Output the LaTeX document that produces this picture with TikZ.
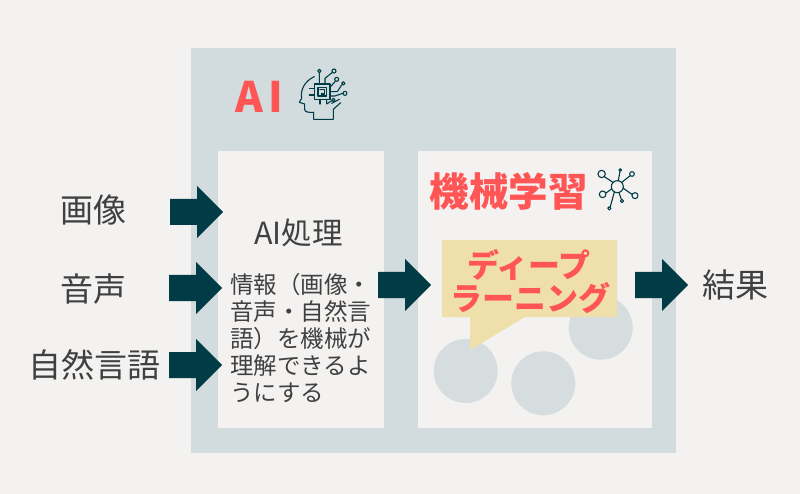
\documentclass[tikz,border=0pt]{standalone}
\usepackage{fontspec}
\setmainfont{Noto Sans CJK JP}
\definecolor{bgcol}{HTML}{F3F2F1}
\definecolor{panelcol}{HTML}{D2DBDD}
\definecolor{darkcol}{HTML}{003B46}
\definecolor{redcol}{HTML}{FF5555}
\definecolor{yellowcol}{HTML}{EFE0AB}
\definecolor{textcol}{HTML}{404040}
\tikzset{
  labeltext/.style={anchor=center,inner sep=0pt,text=textcol,font=\fontsize{33}{38}\selectfont},
  redtext/.style={anchor=center,inner sep=0pt,text=redcol,font=\fontsize{#1}{#1}\selectfont\bfseries},
  iconline/.style={draw=darkcol,line width=1.1pt,line cap=round,line join=round},
}
\begin{document}
\begin{tikzpicture}[x=1pt, y=-1pt]

  %% ════ 背景と枠 ════
  \fill[bgcol] (0,0) rectangle (800,494);
  \fill[panelcol] (191,48) rectangle (676,453);
  \fill[bgcol] (218,151) rectangle (384,428);
  \fill[bgcol] (418,151) rectangle (652,428);

  %% ════ 円と吹き出し ════
  \fill[panelcol!90!bgcol] (465.7,371) circle (32);
  \fill[panelcol!90!bgcol] (543.3,383.3) circle (32);
  \fill[panelcol!90!bgcol] (600.7,327.7) circle (32);
  \fill[yellowcol] (442,240) -- (617,240) -- (617,317) -- (525,317) -- (470,350) -- (470,317) -- (442,317) -- cycle;

  %% ════ 太い矢印 ════
  \foreach \x/\y in {170/212, 169/288, 169/365, 378/285, 635/285}
    \fill[darkcol] (\x,\y-13) -- (\x+27,\y-13) -- (\x+27,\y-26) -- (\x+53,\y) -- (\x+27,\y+26) -- (\x+27,\y+13) -- (\x,\y+13) -- cycle;

  %% ════ 文字 ════
  \node[labeltext] (imagelabel) at (93.5,210) {画像};
  \node[labeltext] (voicelabel) at (93.5,289) {音声};
  \node[labeltext] (langlabel) at (94,365) {自然言語\hspace{-1pt}};
  \node[labeltext] (resultlabel) at (735,285) {結果};
  \node[labeltext,font=\fontsize{30.5}{36}\selectfont] (proclabel) at (298.5,233) {AI処理};
  \node[labeltext,anchor=north west,align=left,font=\fontsize{23.5}{26.8}\selectfont] (procdesc) at (230,273.5) {情報（画像・\\音声・自然言\\語）を機械が\\理解できるよ\\うにする};
  \node[redtext=42] (ailabel) at (259.5,97) {A\hspace{5pt}I};
  \node[redtext=39.5] (mllabel) at (508.5,191) {機械学習};
  \node[redtext=32] (dllabelA) at (529,265) {ディープ};
  \node[redtext=32] (dllabelB) at (530.5,298) {ラーニング};

  %% ════ 頭のアイコン ════
  \begin{scope}[shift={(220,60)},x=0.3333pt,y=-0.3333pt,iconline]
    \draw (283,50) .. controls (255,62) and (240,90) .. (245,115) -- (238,127) -- (254,132) -- (254,148) .. controls (254,156) and (265,158) .. (281,157) -- (281,178) -- (340,178) -- (340,148) -- (362,128);
    \draw (283,72) rectangle (330,118);
    \draw (294,82) rectangle (320,108);
    \draw (300,88) -- (314,88) -- (314,102) -- (304,102);
    \draw (298,72) -- (298,39) (298,33) circle (5);
    \draw (315,72) -- (315,55) -- (336,38) (342,33) circle (6);
    \draw (330,82) -- (345,65) (350,58) circle (6);
    \draw (330,95) -- (352,95) -- (365,75) (370,70) circle (5);
    \draw (330,108) -- (345,108) -- (368,100) (375,100) circle (6);
    \draw (320,118) -- (320,132) -- (335,122) (340,120) circle (5);
    \draw (283,85) -- (268,85) (283,105) -- (268,105) (300,118) -- (300,132);
    \draw (335,130) -- (358,118);
  \end{scope}

  %% ════ ネットワークのアイコン ════
  \begin{scope}[shift={(420,155)},x=0.3333pt,y=-0.3333pt,iconline]
    \draw (592,95) circle (18);
    \foreach \x/\y/\r in {545/57/11, 601/45/4, 636/57/7, 645/122/9, 606/138/5, 568/160/5, 548/118/10}
      \draw (\x,\y) circle (\r);
    \draw (579,82) -- (553,65) (595,77) -- (600,49) (605,82) -- (631,62) (610,100) -- (636,118) (597,113) -- (604,133) (583,111) -- (571,155) (575,102) -- (558,114);
  \end{scope}

  % 画面サイズを固定
  \pgfresetboundingbox
  \path[use as bounding box] (0,0) rectangle (800,494);
\end{tikzpicture}
\end{document}
